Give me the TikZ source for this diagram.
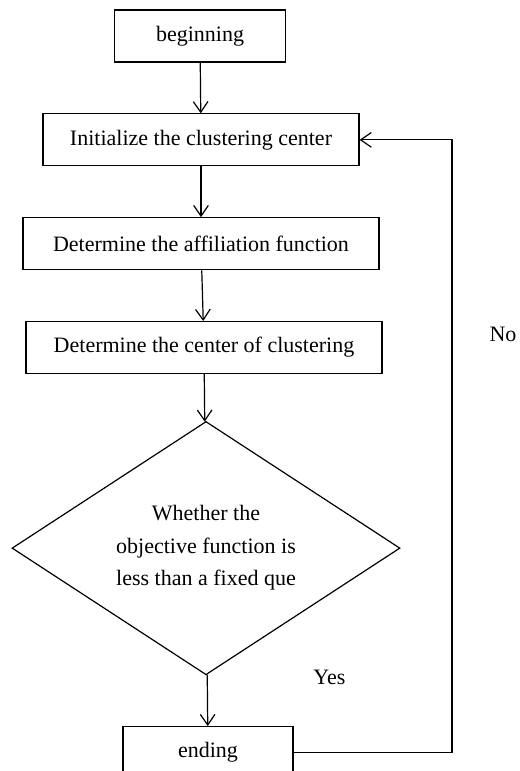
\documentclass[tikz,border=0pt]{standalone}
\usepackage{fontspec}
\setmainfont{Liberation Serif}
\usetikzlibrary{arrows.meta,positioning,shapes.geometric}

\begin{document}
\begin{tikzpicture}[
  node distance=38pt,
  box/.style={draw, line width=0.9pt, align=center, minimum height=39pt,
              inner sep=2pt, font=\fontsize{16.5}{20}\selectfont},
  test/.style={draw, line width=0.9pt, diamond, aspect=1.53, align=center,
               minimum width=291pt, minimum height=190pt, inner sep=0pt,
               font=\fontsize{16.5}{24.4}\selectfont},
  lbl/.style={font=\fontsize{16.5}{20}\selectfont},
  arr/.style={-{Straight Barb[length=8pt,width=11pt]}, line width=0.9pt}
]
\useasboundingbox (0,0) rectangle (389.25pt,-578.25pt);

\node[box, minimum width=128pt] (beg) at (150pt,-27pt) {beginning};
\node[box, minimum width=237pt, below=of beg, xshift=0.75pt] (init)
  {Initialize the clustering center};
\node[box, minimum width=267pt, below=of init] (memb)
  {Determine the affiliation function};
\node[box, minimum width=267pt, below=of memb, xshift=2.25pt] (cent)
  {Determine the center of clustering};
\node[test, below=35pt of cent, xshift=1.5pt] (obj)
  {\raisebox{-3pt}{\parbox{150pt}{\centering Whether the\\objective function is\\less than a fixed que}}};
\node[box, minimum width=127.5pt, below=of obj, xshift=1.5pt] (fin) {ending};

\node[lbl] (yes) at (247pt,-508pt) {Yes};
\node[lbl, anchor=west, inner sep=0pt] (no) at (367pt,-251pt) {No};

\draw[arr] (beg)  -- (init);
\draw[arr] (init) -- (memb);
\draw[arr] (memb) -- (cent);
\draw[arr] (cent) -- (obj);
\draw[arr] (obj)  -- (fin);
% loop back to the start when the test fails
\coordinate (back) at (339pt,-300pt);
\draw[arr] (fin.east) -- (fin.east -| back) |- (init.east);
\end{tikzpicture}
\end{document}
